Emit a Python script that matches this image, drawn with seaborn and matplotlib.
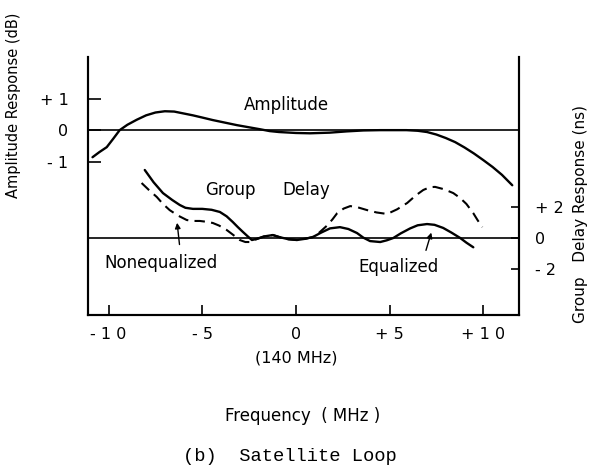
import numpy as np
import matplotlib
matplotlib.use("Agg")
import matplotlib.pyplot as plt
import pandas as pd
import seaborn as sns

# Amplitude response (dB) vs frequency offset (MHz)
amp_freq = [-10.86, -10.5, -10.1, -9.75, -9.41, -9.0, -8.5, -8.0, -7.5, -7.0, -6.5,
            -6.0, -5.5, -5.0, -4.44, -3.8, -3.16, -2.5, -1.93, -1.4, -0.9, 0.0, 0.75,
            1.8, 2.7, 3.6, 4.5, 5.9, 6.5, 7.0, 7.5, 8.0, 8.5, 9.0, 9.5, 10.0, 10.5,
            11.0, 11.55]
amp_db = [-0.86, -0.7, -0.54, -0.27, 0.0, 0.17, 0.33, 0.47, 0.56, 0.6, 0.59,
          0.53, 0.47, 0.4, 0.32, 0.24, 0.16, 0.09, 0.03, -0.03, -0.06, -0.09, -0.1,
          -0.08, -0.04, -0.01, 0.0, 0.0, -0.02, -0.06, -0.14, -0.25, -0.38, -0.55,
          -0.74, -0.95, -1.17, -1.42, -1.75]

# Group delay (ns), equalized (solid)
eq_freq = [-8.07, -7.6, -7.1, -6.6, -6.2, -5.9, -5.5, -5.0, -4.5, -4.06, -3.7, -3.37,
           -3.1, -2.83, -2.55, -2.35, -2.1, -1.7, -1.23, -0.86, -0.4, 0.05, 0.5, 0.9,
           1.35, 1.82, 2.35, 2.8, 3.26, 3.6, 3.96, 4.5, 4.85, 5.2, 5.6, 6.1, 6.5, 7.0,
           7.4, 7.86, 8.3, 8.77, 9.1, 9.47]
eq_ns = [4.39, 3.6, 2.9, 2.45, 2.13, 1.95, 1.88, 1.88, 1.82, 1.68, 1.4, 1.03,
         0.7, 0.39, 0.08, -0.13, -0.06, 0.1, 0.19, 0.05, -0.08, -0.13, -0.05, 0.06,
         0.35, 0.62, 0.7, 0.58, 0.32, 0.02, -0.2, -0.26, -0.15, 0.0, 0.3, 0.62, 0.82, 0.9,
         0.85, 0.65, 0.35, 0.0, -0.3, -0.6]

# Group delay (ns), nonequalized (dashed)
neq_freq = [-8.24, -7.85, -7.43, -7.1, -6.74, -6.3, -5.83, -5.5, -5.13, -4.8, -4.44,
            -4.1, -3.7, -3.35, -3.0, -2.7, -2.46, -2.2, -1.93, -1.7, -1.23, -0.86, -0.4,
            0.05, 0.5, 0.9, 1.2, 1.66, 1.95, 2.2, 2.55, 2.9, 3.3, 3.8, 4.3, 4.87, 5.4,
            5.94, 6.4, 6.8, 7.15, 7.43, 7.9, 8.4, 8.77, 9.1, 9.47, 9.7, 9.95]
neq_ns = [3.55, 3.1, 2.65, 2.2, 1.8, 1.45, 1.16, 1.1, 1.1, 1.05, 0.97,
          0.8, 0.52, 0.2, -0.13, -0.26, -0.26, -0.12, 0.0, 0.1, 0.19, 0.05, -0.08,
          -0.13, -0.05, 0.06, 0.3, 0.8, 1.2, 1.6, 1.9, 2.06, 1.98, 1.8, 1.65, 1.55, 1.85,
          2.26, 2.75, 3.1, 3.28, 3.3, 3.15, 2.9, 2.58, 2.2, 1.6, 1.15, 0.7]

freq_ticks = [-10, -5, 0, 5, 10]
freq_labels = ["- 1 0", "- 5", "0", "+ 5", "+ 1 0"]
amp_ticks = [-1, 0, 1]
amp_labels = ["- 1", "0", "+ 1"]
delay_ticks = [-2, 0, 2]
delay_labels = ["- 2", "0", "+ 2"]

sns.set_style("ticks")
plt.rcParams["font.family"] = ["DejaVu Sans"]
plt.rcParams.update({"text.color": "black", "axes.labelcolor": "black",
                     "xtick.color": "black", "ytick.color": "black",
                     "axes.edgecolor": "black"})

amp = pd.DataFrame({"Frequency": amp_freq, "Amplitude": amp_db})
eq = pd.DataFrame({"Frequency": eq_freq, "Delay": eq_ns})
neq = pd.DataFrame({"Frequency": neq_freq, "Delay": neq_ns})

fig = plt.figure(figsize=(6, 4.68), dpi=100)
ax = fig.add_axes([0.1467, 0.327, 0.718, 0.551])
ax2 = ax.twinx()

# amplitude curve
sns.lineplot(x="Frequency", y="Amplitude", data=amp, color="black", lw=1.7,
             sort=False, estimator=None, ax=ax)
ax.axhline(0, color="black", lw=1.2)

# group delay curves
sns.lineplot(x="Frequency", y="Delay", data=eq, color="black", lw=1.7,
             sort=False, estimator=None, ax=ax2)
sns.lineplot(x="Frequency", y="Delay", data=neq, color="black", lw=1.5,
             linestyle=(0, (5, 3)), sort=False, estimator=None, ax=ax2)
ax2.axhline(0, color="black", lw=1.2)

ax.set_xlim(-11.1, 11.9)
ax.set_ylim(-5.87, 2.32)
ax2.set_ylim(-4.97, 11.68)

ax.set_xticks(freq_ticks)
ax.set_xticklabels(freq_labels, fontsize=11.5)
ax.set_yticks(amp_ticks)
ax.set_yticklabels(amp_labels, fontsize=11.5)
ax2.set_yticks(delay_ticks)
ax2.set_yticklabels(delay_labels, fontsize=11.5)

ax.tick_params(axis="x", direction="in", length=7, width=1.2, pad=9)
ax.tick_params(axis="y", direction="in", length=9, width=1.2, pad=14)
ax2.tick_params(axis="y", direction="in", length=6, width=1.2, pad=12)

for a in (ax, ax2):
    a.spines["top"].set_visible(False)
    for s in ("left", "right", "bottom"):
        a.spines[s].set_linewidth(1.5)

ax.set_xlabel("Frequency  ( MHz )", fontsize=12)
ax.xaxis.set_label_coords(0.499, -0.355)
ax.set_ylabel("Amplitude Response (dB)", fontsize=10.5)
ax.yaxis.set_label_coords(-0.156, 0.814)
ax2.set_ylabel("Group   Delay Response (ns)", fontsize=11)
ax2.yaxis.set_label_coords(1.125, 0.39)

# annotations
ax.text(-0.5, 0.79, "Amplitude", fontsize=12, ha="center", va="center")
ax2.text(-3.5, 3.1, "Group", fontsize=12, ha="center", va="center")
ax2.text(0.55, 3.1, "Delay", fontsize=12, ha="center", va="center")
ax2.text(-7.2, -1.6, "Nonequalized", fontsize=12, ha="center", va="center")
ax2.text(5.45, -1.87, "Equalized", fontsize=12, ha="center", va="center")
ax.text(0, -0.167, "(140 MHz)", fontsize=11.5, ha="center", va="center",
        transform=ax.get_xaxis_transform())

arrow = dict(arrowstyle="-|>", color="black", lw=1, mutation_scale=8)
ax2.annotate("", xy=(-6.36, 1.16), xytext=(-6.2, -0.6), arrowprops=arrow)
ax2.annotate("", xy=(7.27, 0.52), xytext=(6.9, -0.97), arrowprops=arrow)

fig.text(0.483, 0.024, "(b)  Satellite Loop", fontsize=13.5, ha="center",
         va="center", family=["Liberation Mono"])

plt.savefig("out.png", dpi=100)
